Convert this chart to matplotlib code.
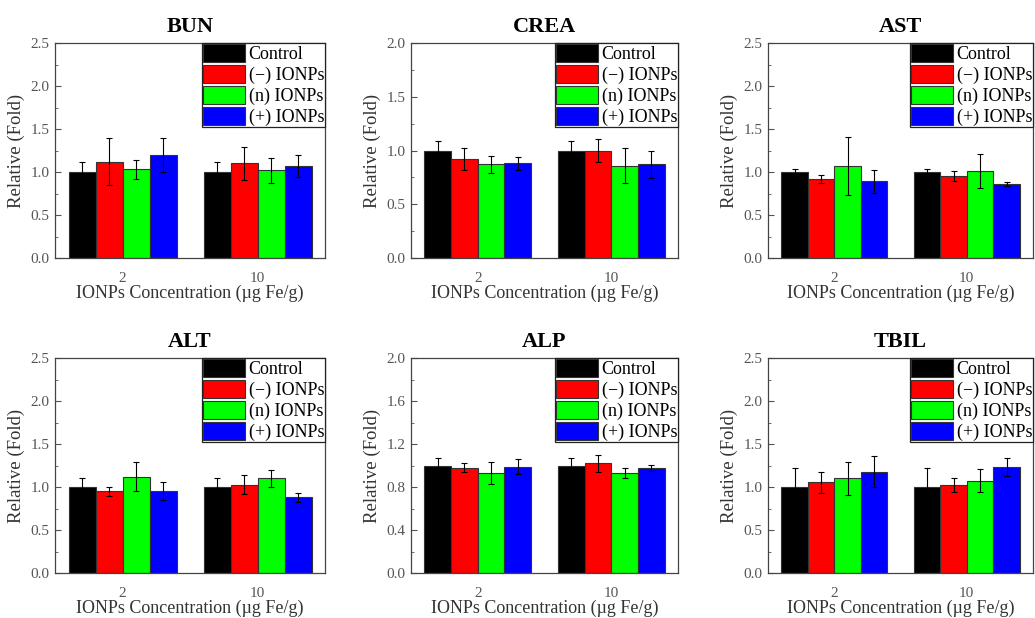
import matplotlib
matplotlib.use('Agg')
import matplotlib.pyplot as plt
import numpy as np
from matplotlib.ticker import MultipleLocator

plt.rcParams['font.family'] = ['Liberation Serif', 'DejaVu Serif']

concentrations = ['2', '10']
groups = ['Control', '(\u2212) IONPs', '(n) IONPs', '(+) IONPs']
colors = ['#000000', '#ff0000', '#00ff00', '#0000ff']

titles = ['BUN', 'CREA', 'AST', 'ALT', 'ALP', 'TBIL']

# means[group][concentration]
bun_mean = [[1.00, 1.00], [1.12, 1.10], [1.03, 1.02], [1.20, 1.07]]
bun_err = [[0.12, 0.12], [0.27, 0.19], [0.11, 0.145], [0.20, 0.125]]
crea_mean = [[1.00, 1.00], [0.92, 1.00], [0.87, 0.86], [0.88, 0.87]]
crea_err = [[0.085, 0.085], [0.105, 0.105], [0.08, 0.16], [0.06, 0.13]]
ast_mean = [[1.00, 1.00], [0.915, 0.955], [1.07, 1.01], [0.89, 0.86]]
ast_err = [[0.04, 0.04], [0.045, 0.06], [0.34, 0.20], [0.13, 0.02]]
alt_mean = [[1.00, 1.00], [0.95, 1.025], [1.12, 1.10], [0.955, 0.88]]
alt_err = [[0.11, 0.11], [0.055, 0.11], [0.17, 0.10], [0.105, 0.05]]
alp_mean = [[1.00, 1.00], [0.98, 1.02], [0.93, 0.93], [0.99, 0.975]]
alp_err = [[0.07, 0.07], [0.045, 0.08], [0.105, 0.05], [0.07, 0.03]]
tbil_mean = [[1.00, 1.00], [1.055, 1.025], [1.10, 1.075], [1.18, 1.23]]
tbil_err = [[0.22, 0.22], [0.12, 0.085], [0.195, 0.135], [0.185, 0.105]]

means = [bun_mean, crea_mean, ast_mean, alt_mean, alp_mean, tbil_mean]
errs = [bun_err, crea_err, ast_err, alt_err, alp_err, tbil_err]
ymax = [2.5, 2.0, 2.5, 2.5, 2.0, 2.5]
ystep = [0.5, 0.5, 0.5, 0.5, 0.4, 0.5]

W, H = 1035, 618
fig = plt.figure(figsize=(W / 100, H / 100), dpi=100)

cols_px = [(55, 325), (411, 678), (768, 1033)]
rows_px = [(43, 258), (358, 573)]

x = np.arange(len(concentrations))
width = 0.2

for k in range(6):
    r, c = divmod(k, 3)
    l, rr = cols_px[c]
    t, b = rows_px[r]
    ax = fig.add_axes([l / W, (H - b) / H, (rr - l) / W, (b - t) / H])
    for g in range(4):
        ax.bar(x - 0.3 + g * width, means[k][g], width, yerr=errs[k][g],
               color=colors[g], edgecolor='#333333', linewidth=0.8,
               error_kw=dict(ecolor='black', elinewidth=0.8, capsize=2.5, capthick=0.8),
               label=groups[g], zorder=2)
    ax.set_xlim(-0.5, 1.5)
    ax.set_ylim(0, ymax[k])
    ax.yaxis.set_major_locator(MultipleLocator(ystep[k]))
    ax.yaxis.set_minor_locator(MultipleLocator(ystep[k] / 2))
    ax.yaxis.set_major_formatter(matplotlib.ticker.FormatStrFormatter('%.1f'))
    ax.set_xticks(x)
    ax.set_xticklabels(concentrations)
    ax.tick_params(axis='both', which='both', direction='in', labelsize=11,
                   labelcolor='#555555', color='#555555')
    ax.tick_params(axis='y', which='major', length=4, pad=4)
    ax.tick_params(axis='y', which='minor', length=2)
    ax.tick_params(axis='x', length=0, pad=10)
    for s in ax.spines.values():
        s.set_color('#444444')
        s.set_linewidth(0.9)
    ax.set_title(titles[k], fontsize=16, fontweight='bold', pad=8)
    ax.set_ylabel('Relative (Fold)', fontsize=13.5, color='#333333', labelpad=4)
    ax.set_xlabel('IONPs Concentration (\u00b5g Fe/g)', fontsize=13, color='#333333', labelpad=0)
    leg = ax.legend(loc='upper right', fontsize=13, handlelength=2.35, handleheight=1.15,
                    labelspacing=0.1, handletextpad=0.2, borderpad=0.05, borderaxespad=0,
                    fancybox=False, framealpha=1)
    leg.get_frame().set_edgecolor('#222222')
    leg.get_frame().set_linewidth(0.9)

fig.savefig('out.png', dpi=100)
